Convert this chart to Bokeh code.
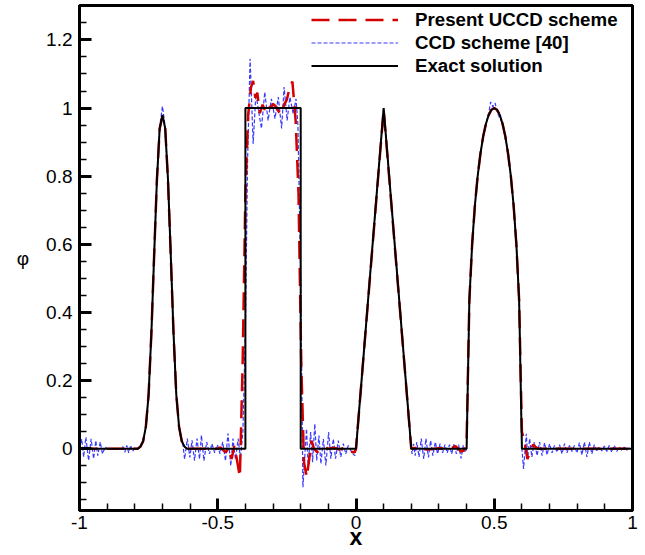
from bokeh.plotting import figure
from bokeh.models import Range1d, FixedTicker, Legend, LegendItem
from bokeh.embed import file_html
from bokeh.resources import INLINE

# ---------------- data ----------------
# Exact solution (Gaussian, square, triangle, ellipse)
exact_x = [-1.0, -0.8, -0.79, -0.78, -0.77, -0.76, -0.75, -0.74, -0.73, -0.72, -0.71,
           -0.70, -0.69, -0.68, -0.67, -0.66, -0.65, -0.64, -0.63, -0.62, -0.61, -0.6,
           -0.4, -0.4, -0.2, -0.2,
           0.0, 0.1, 0.2,
           0.4, 0.41, 0.42, 0.43, 0.44, 0.45, 0.46, 0.47, 0.48, 0.49, 0.5,
           0.51, 0.52, 0.53, 0.54, 0.55, 0.56, 0.57, 0.58, 0.59, 0.6, 1.0]
exact_y = [0.0, 0.0, 0.0, 0.006, 0.022, 0.065, 0.16, 0.34, 0.57, 0.79, 0.94,
           0.98, 0.94, 0.79, 0.57, 0.34, 0.16, 0.065, 0.022, 0.006, 0.0, 0.0,
           0.0, 1.0, 1.0, 0.0,
           0.0, 1.0, 0.0,
           0.0, 0.436, 0.6, 0.714, 0.8, 0.866, 0.917, 0.954, 0.98, 0.995, 1.0,
           0.995, 0.98, 0.954, 0.917, 0.866, 0.8, 0.714, 0.6, 0.436, 0.0, 0.0]

# Present UCCD scheme
uccd_x = [-1.0, -0.8, -0.79, -0.78, -0.77, -0.76, -0.75, -0.74, -0.73, -0.72, -0.71,
          -0.70, -0.69, -0.68, -0.67, -0.66, -0.65, -0.64, -0.63, -0.62, -0.61, -0.6,
          -0.5, -0.49, -0.48, -0.47, -0.46, -0.45, -0.44, -0.43, -0.42, -0.41,
          -0.40, -0.39, -0.38, -0.372, -0.364, -0.357, -0.348, -0.338, -0.33, -0.32,
          -0.31, -0.30, -0.29, -0.28, -0.27, -0.26, -0.25, -0.24, -0.23, -0.218,
          -0.208, -0.198, -0.188, -0.178, -0.17, -0.161, -0.152, -0.14, -0.13, -0.12,
          -0.1, -0.08, -0.06, -0.04, -0.02, -0.005,
          0.0, 0.1, 0.2, 0.22, 0.25, 0.3, 0.34, 0.36, 0.38, 0.39,
          0.4, 0.41, 0.42, 0.43, 0.44, 0.45, 0.46, 0.47, 0.48, 0.49, 0.5,
          0.51, 0.52, 0.53, 0.54, 0.55, 0.56, 0.57, 0.58, 0.59,
          0.6, 0.61, 0.62, 0.63, 0.64, 0.65, 0.66, 1.0]
uccd_y = [0.0, 0.0, 0.0, 0.006, 0.022, 0.065, 0.16, 0.34, 0.57, 0.79, 0.94,
          0.975, 0.94, 0.79, 0.57, 0.34, 0.16, 0.065, 0.022, 0.006, 0.0, 0.0,
          0.0, 0.004, -0.004, -0.01, 0.005, -0.03, 0.008, -0.035, -0.083, 0.25,
          0.75, 0.98, 1.06, 1.08, 1.03, 1.045, 0.985, 1.01, 0.995, 1.012,
          1.0, 1.012, 1.005, 0.99, 0.98, 1.01, 1.025, 1.06, 1.078, 0.96,
          0.75, 0.25, -0.04, -0.083, -0.035, 0.024, 0.0, -0.01, -0.004, 0.004,
          0.0, 0.003, -0.002, 0.003, -0.008, -0.01,
          0.0, 0.995, 0.0, 0.003, -0.003, 0.002, 0.0, 0.008, -0.008, -0.005,
          0.02, 0.436, 0.6, 0.714, 0.8, 0.866, 0.917, 0.954, 0.98, 0.995, 1.0,
          0.995, 0.98, 0.954, 0.917, 0.866, 0.8, 0.714, 0.6, 0.436,
          0.05, 0.02, -0.03, -0.01, 0.012, 0.005, 0.0, 0.0]

# CCD scheme [40]
ccd_x = [-1.0, -0.992, -0.985, -0.977, -0.967, -0.958, -0.949, -0.941, -0.934, -0.925,
         -0.917, -0.907, -0.9, -0.85, -0.843, -0.836, -0.829, -0.822, -0.815, -0.808, -0.8,
         -0.79, -0.78, -0.77, -0.76, -0.75, -0.74, -0.73, -0.72, -0.71, -0.70, -0.69,
         -0.68, -0.67, -0.66, -0.65, -0.64, -0.633,
         -0.627, -0.62, -0.61, -0.601, -0.593, -0.584, -0.575, -0.566, -0.559, -0.55,
         -0.54, -0.53, -0.521, -0.511, -0.501, -0.492, -0.482, -0.472, -0.463, -0.453,
         -0.445, -0.436, -0.426, -0.418, -0.409,
         -0.4, -0.392, -0.383, -0.372, -0.362, -0.352, -0.342, -0.33, -0.318, -0.306,
         -0.293, -0.281, -0.269, -0.26, -0.249, -0.239, -0.227, -0.217, -0.21, -0.2,
         -0.192, -0.179, -0.173, -0.164, -0.157, -0.149, -0.142, -0.134, -0.127, -0.118,
         -0.109, -0.099, -0.091, -0.082, -0.074, -0.064, -0.055, -0.046, -0.037, -0.028,
         -0.016, -0.004, 0.0,
         0.1, 0.2,
         0.203, 0.208, 0.214, 0.22, 0.228, 0.236, 0.245, 0.253, 0.262, 0.27, 0.278,
         0.287, 0.295, 0.304, 0.313, 0.322, 0.33, 0.338, 0.346, 0.355, 0.363, 0.371,
         0.38, 0.388, 0.395, 0.4,
         0.41, 0.42, 0.43, 0.44, 0.45, 0.46, 0.47, 0.48, 0.487, 0.495, 0.503, 0.51,
         0.52, 0.53, 0.54, 0.55, 0.56, 0.57, 0.58, 0.59, 0.6,
         0.606, 0.616, 0.621, 0.628, 0.636, 0.645, 0.655, 0.664, 0.673, 0.682, 0.691,
         0.7, 0.709, 0.718, 0.727, 0.736, 0.745, 0.754, 0.763, 0.772, 0.781, 0.79,
         0.799, 0.808, 0.817, 0.826, 0.835, 0.844, 0.853, 0.862, 0.871, 0.88, 0.889,
         0.898, 0.907, 0.916, 0.925, 0.934, 0.943, 0.952, 0.961, 0.97, 0.98, 0.99, 1.0]
ccd_y = [0.0, 0.029, -0.024, 0.034, -0.034, 0.029, -0.029, 0.024, -0.02, 0.02,
         -0.015, 0.005, 0.0, 0.0, 0.006, -0.01, 0.01, -0.012, 0.01, -0.008, 0.003,
         0.0, 0.006, 0.022, 0.065, 0.16, 0.34, 0.57, 0.79, 0.945, 1.005, 0.945,
         0.79, 0.57, 0.34, 0.16, 0.065, 0.03,
         0.02, -0.03, 0.03, -0.025, 0.025, -0.035, 0.03, -0.03, 0.04, -0.035,
         0.02, -0.015, 0.015, -0.012, 0.012, -0.015, 0.02, -0.035, 0.045, -0.05,
         0.03, -0.03, 0.03, -0.03, 0.05,
         0.35, 0.85, 1.145, 0.895, 1.042, 0.99, 0.94, 1.047, 0.964, 1.027,
         0.969, 1.032, 0.94, 1.062, 0.964, 1.032, 0.983, 1.027, 0.95, 0.5,
         -0.113, 0.059, -0.049, 0.049, -0.039, 0.073, -0.034, 0.039, -0.044, 0.029,
         -0.049, 0.049, -0.029, 0.029, -0.029, 0.024, -0.024, 0.015, -0.015, 0.01,
         -0.01, -0.02, 0.0,
         1.0, 0.0,
         -0.015, 0.015, -0.02, 0.02, -0.024, 0.03, -0.03, 0.03, -0.025, 0.024, -0.02,
         0.02, -0.015, 0.015, -0.012, 0.012, -0.012, 0.012, -0.015, 0.015, -0.015, 0.012,
         -0.028, 0.01, -0.01, 0.0,
         0.436, 0.6, 0.714, 0.8, 0.866, 0.917, 0.954, 0.985, 1.018, 1.003, 1.015, 0.99,
         0.97, 0.954, 0.917, 0.866, 0.8, 0.714, 0.6, 0.436, 0.0,
         -0.059, 0.044, -0.029, 0.03, -0.024, 0.02, -0.02, 0.02, -0.02, 0.018, -0.018,
         0.015, -0.012, 0.01, -0.01, 0.012, -0.015, 0.015, -0.012, 0.01, -0.008, 0.01,
         -0.012, 0.018, -0.018, 0.02, -0.024, 0.02, -0.015, 0.012, -0.008, 0.006, -0.006,
         0.008, -0.008, 0.01, -0.01, 0.01, -0.008, 0.006, -0.005, 0.005, -0.004, 0.004, 0.0]

assert len(exact_x) == len(exact_y)
assert len(uccd_x) == len(uccd_y)
assert len(ccd_x) == len(ccd_y)

x_ticks = [-1.0, -0.5, 0.0, 0.5, 1.0]
x_tick_labels = ["-1", "-0.5", "0", "0.5", "1"]
x_minor = [-0.9, -0.8, -0.7, -0.6, -0.4, -0.3, -0.2, -0.1, 0.1, 0.2, 0.3, 0.4,
           0.6, 0.7, 0.8, 0.9]
y_ticks = [0.0, 0.2, 0.4, 0.6, 0.8, 1.0, 1.2]
y_tick_labels = ["0", "0.2", "0.4", "0.6", "0.8", "1", "1.2"]
y_minor = [-0.15, -0.1, -0.05, 0.05, 0.1, 0.15, 0.25, 0.3, 0.35, 0.45, 0.5, 0.55,
           0.65, 0.7, 0.75, 0.85, 0.9, 0.95, 1.05, 1.1, 1.15, 1.25]

legend_labels = ["Present UCCD scheme", "CCD scheme [40]", "Exact solution"]

# ---------------- figure ----------------
FONT = "Liberation Sans"
FRAME_H = 505
p = figure(width=645, height=555, output_backend="svg", toolbar_location=None,
           x_range=Range1d(-1, 1), y_range=Range1d(-0.181, 1.301),
           min_border_left=79, min_border_right=13, min_border_top=5,
           min_border_bottom=45)
p.background_fill_color = "white"
p.border_fill_color = "white"
p.outline_line_color = "black"
p.outline_line_width = 3
p.grid.visible = False

r_ccd = p.line(ccd_x, ccd_y, line_color="#3a3aff", line_width=1.2, line_dash="4 2")
r_uccd = p.line(uccd_x, uccd_y, line_color="#d40000", line_width=2.5,
                line_dash="18 9")
r_exact = p.line(exact_x, exact_y, line_color="black", line_width=2)

for ax, ticks, labels, minor in ((p.xaxis[0], x_ticks, x_tick_labels, x_minor),
                                 (p.yaxis[0], y_ticks, y_tick_labels, y_minor)):
    ax.ticker = FixedTicker(ticks=ticks, minor_ticks=minor)
    ax.major_label_overrides = {t: l for t, l in zip(ticks, labels)}
    ax.axis_line_width = 3
    ax.axis_line_color = "black"
    ax.major_tick_in = 12
    ax.major_tick_out = 0
    ax.minor_tick_in = 7
    ax.minor_tick_out = 0
    ax.major_tick_line_width = 3
    ax.minor_tick_line_width = 1.5
    ax.major_label_text_font = FONT
    ax.major_label_text_font_size = "19px"
    ax.major_label_text_color = "black"
    ax.axis_label_text_color = "black"

p.xaxis[0].axis_label = "x"
p.xaxis[0].axis_label_text_font = FONT
p.xaxis[0].axis_label_text_font_style = "bold"
p.xaxis[0].axis_label_text_font_size = "23px"
p.xaxis[0].axis_label_standoff = -8
p.xaxis[0].major_label_standoff = 5

p.yaxis[0].axis_label = "φ"
p.yaxis[0].axis_label_orientation = "horizontal"
p.yaxis[0].axis_label_text_font = FONT
p.yaxis[0].axis_label_text_font_style = "normal"
p.yaxis[0].axis_label_text_font_size = "19px"
p.yaxis[0].axis_label_standoff = 14
p.yaxis[0].major_label_standoff = 7

legend = Legend(items=[LegendItem(label=legend_labels[0], renderers=[r_uccd]),
                       LegendItem(label=legend_labels[1], renderers=[r_ccd]),
                       LegendItem(label=legend_labels[2], renderers=[r_exact])],
                location=(313 - 79 - 2, FRAME_H - 2 - 3 * 23 - 1),
                margin=0, padding=2, spacing=0,
                glyph_width=87, glyph_height=23, label_height=23, label_standoff=17,
                border_line_color=None, background_fill_alpha=0,
                label_text_font=FONT, label_text_font_style="bold",
                label_text_font_size="18.7px", label_text_color="black")
p.add_layout(legend)

open("out.html", "w").write(file_html(p, INLINE))
